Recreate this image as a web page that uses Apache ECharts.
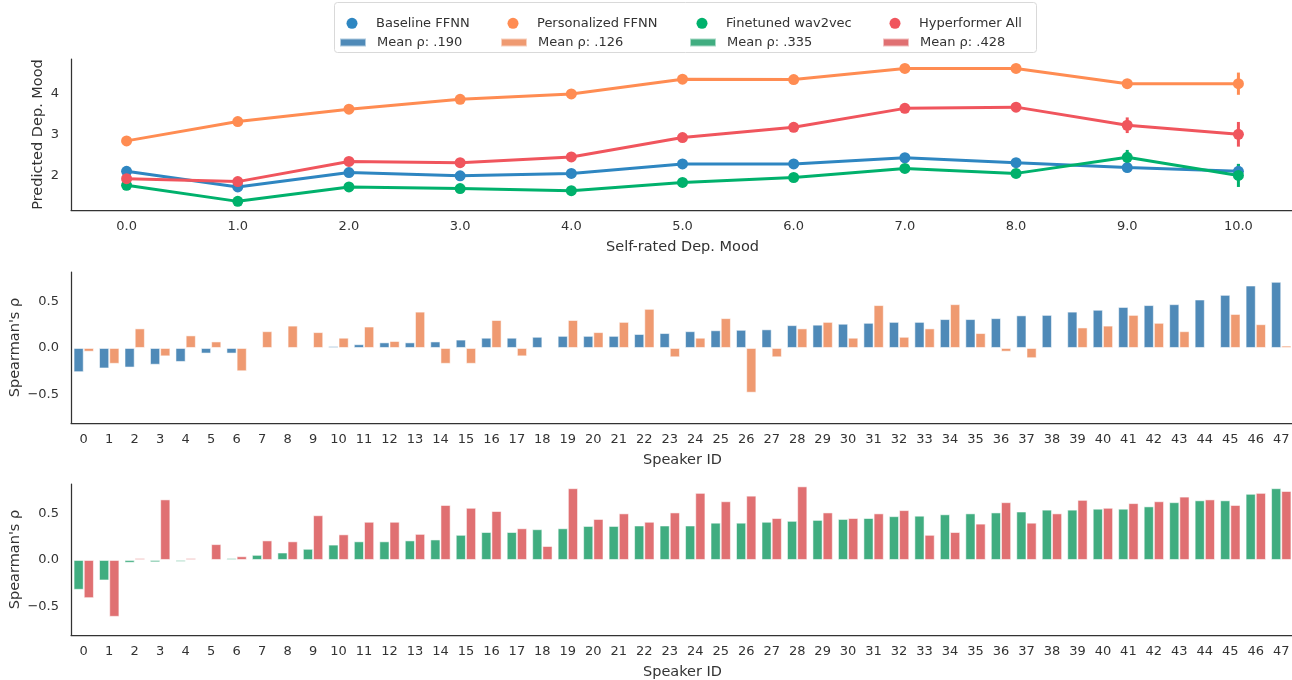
<!DOCTYPE html>
<html>
<head>
<meta charset="utf-8">
<script src="https://cdn.jsdelivr.net/npm/echarts@6/dist/echarts.min.js"></script>
<style>html,body{margin:0;padding:0;background:#fff;overflow:hidden;width:1292px;height:680px}#c{width:1296px;height:680px}</style>
</head>
<body>
<div id="c"></div>
<script>
// ---- Data ----
const moodCategories = ['0.0','1.0','2.0','3.0','4.0','5.0','6.0','7.0','8.0','9.0','10.0'];
const baselineMood     = [2.10, 1.72, 2.07, 1.99, 2.05, 2.28, 2.28, 2.43, 2.31, 2.19, 2.10];
const personalizedMood = [2.84, 3.31, 3.61, 3.85, 3.98, 4.34, 4.33, 4.60, 4.60, 4.23, 4.23];
const finetunedMood    = [1.76, 1.37, 1.72, 1.68, 1.63, 1.83, 1.95, 2.17, 2.05, 2.44, 2.00];
const hyperformerMood  = [1.92, 1.85, 2.34, 2.31, 2.45, 2.92, 3.17, 3.63, 3.66, 3.22, 3.00];
const baselineErr      = [0.03, 0.03, 0.03, 0.03, 0.03, 0.04, 0.04, 0.05, 0.06, 0.08, 0.18];
const personalizedErr  = [0.03, 0.03, 0.03, 0.03, 0.03, 0.04, 0.04, 0.05, 0.06, 0.11, 0.27];
const finetunedErr     = [0.03, 0.03, 0.03, 0.03, 0.03, 0.04, 0.04, 0.05, 0.06, 0.18, 0.28];
const hyperformerErr   = [0.03, 0.03, 0.03, 0.03, 0.03, 0.05, 0.05, 0.06, 0.08, 0.19, 0.30];

const speakerIds = Array.from({length: 48}, (_, i) => String(i));
const baselineRho = [-0.26,-0.22,-0.21,-0.18,-0.15,-0.06,-0.06,0.0,0.003,0.0,0.02,0.04,0.06,0.06,0.07,0.09,0.11,0.11,0.12,0.13,0.13,0.13,0.15,0.16,0.18,0.19,0.195,0.20,0.245,0.25,0.26,0.27,0.28,0.28,0.31,0.31,0.32,0.35,0.355,0.39,0.41,0.44,0.46,0.47,0.52,0.57,0.67,0.71];
const personalizedRho = [-0.04,-0.17,0.21,-0.09,0.135,0.07,-0.25,0.18,0.24,0.17,0.11,0.23,0.075,0.39,-0.17,-0.17,0.30,-0.09,0.0,0.30,0.17,0.28,0.42,-0.10,0.11,0.32,-0.48,-0.10,0.21,0.28,0.11,0.46,0.12,0.21,0.47,0.16,-0.04,-0.11,0.0,0.22,0.24,0.355,0.27,0.18,0.003,0.365,0.255,0.025];
const finetunedRho = [-0.32,-0.22,-0.03,-0.025,-0.02,0.0,0.02,0.055,0.08,0.12,0.165,0.20,0.20,0.21,0.22,0.27,0.30,0.30,0.33,0.34,0.365,0.365,0.37,0.37,0.37,0.40,0.40,0.41,0.42,0.43,0.44,0.45,0.47,0.475,0.49,0.50,0.51,0.52,0.54,0.54,0.55,0.55,0.575,0.62,0.64,0.64,0.71,0.77];
const hyperformerRho = [-0.41,-0.61,0.02,0.65,0.02,0.17,0.04,0.21,0.20,0.48,0.275,0.41,0.41,0.28,0.59,0.56,0.525,0.34,0.15,0.77,0.44,0.50,0.41,0.51,0.72,0.63,0.69,0.45,0.79,0.51,0.45,0.50,0.535,0.27,0.30,0.39,0.62,0.40,0.50,0.645,0.56,0.61,0.63,0.68,0.65,0.59,0.72,0.74];

const lineNames = ['Baseline FFNN','Personalized FFNN','Finetuned wav2vec','Hyperformer All'];
const meanNames = ['Mean ρ: .190','Mean ρ: .126','Mean ρ: .335','Mean ρ: .428'];
const moodTicks = [2, 3, 4];
const rhoTicks = [-0.5, 0, 0.5];

// ---- Styles ----
const lineColors = ['#2e86c1','#ff8c52','#00b16c','#f0555d'];
const barColors  = ['#4f8ab8','#ef9a71','#40ad80','#e07072'];
const FONT = 'DejaVu Sans';
const TXT = '#333';

function errSeries(vals, errs, color) {
  return {
    type: 'custom', xAxisIndex: 0, yAxisIndex: 0, silent: true, z: 3,
    data: vals.map((v, i) => [i, v, errs[i]]),
    renderItem: function (params, api) {
      const x = api.value(0), y = api.value(1), e = api.value(2);
      const p1 = api.coord([x, y - e]);
      const p2 = api.coord([x, y + e]);
      return {type: 'line', shape: {x1: p1[0], y1: p1[1], x2: p2[0], y2: p2[1]},
              style: {stroke: color, lineWidth: 3}};
    }
  };
}

function xAxisCfg(idx, data, name) {
  return {
    type: 'category', gridIndex: idx, data: data, boundaryGap: true,
    name: name, nameLocation: 'middle', nameGap: 30,
    nameTextStyle: {fontFamily: FONT, fontSize: 14.5, color: TXT},
    axisLine: {show: true, onZero: false, lineStyle: {color: '#333', width: 1.25}},
    axisTick: {show: false},
    axisLabel: {fontFamily: FONT, fontSize: 13, color: TXT, margin: 10, interval: 0},
    splitLine: {show: false}
  };
}
function yAxisCfg(idx, min, max, ticks, name, gap, fmt) {
  return {
    type: 'value', gridIndex: idx, min: min, max: max,
    name: name, nameLocation: 'middle', nameGap: gap, nameRotate: 90,
    nameMoveOverlap: false,
    nameTextStyle: {fontFamily: FONT, fontSize: 14.5, color: TXT},
    axisLine: {show: true, onZero: false, lineStyle: {color: '#333', width: 1.25}},
    axisTick: {show: false},
    axisLabel: {fontFamily: FONT, fontSize: 13, color: TXT, margin: 12,
                customValues: ticks, formatter: fmt},
    splitLine: {show: false}
  };
}
const rhoFmt = v => (v < 0 ? '\u2212' : '') + Math.abs(v).toFixed(1);

const circleLeft = [346.5, 507.5, 696.5, 889.5];
const rectLeft = [339, 500, 689, 882];
const legends = [];
lineNames.forEach((n, i) => legends.push({
  data: [n], left: circleLeft[i], top: 16.8, padding: 0, icon: 'circle',
  itemWidth: 11, itemHeight: 11, selectedMode: false,
  formatter: nm => '{g|}' + nm,
  textStyle: {fontFamily: FONT, fontSize: 13, color: TXT,
              rich: {g: {width: 13.5, fontSize: 13}}}
}));
meanNames.forEach((n, i) => legends.push({
  data: [n], left: rectLeft[i], top: 36, padding: 0, icon: 'rect',
  itemWidth: 26, itemHeight: 8, selectedMode: false,
  formatter: nm => '{g|}' + nm,
  textStyle: {fontFamily: FONT, fontSize: 13, color: TXT,
              rich: {g: {width: 6, fontSize: 13}}}
}));

const barBase = {type: 'bar', barGap: '0%', barCategoryGap: '20%'};
function barSeries(name, data, color, idx) {
  return Object.assign({}, barBase, {
    name: name, data: data, xAxisIndex: idx, yAxisIndex: idx,
    itemStyle: {color: color, borderColor: 'rgba(255,255,255,0.55)', borderWidth: 1}
  });
}
function lineSeries(name, data, color) {
  return {
    name: name, type: 'line', data: data, xAxisIndex: 0, yAxisIndex: 0, z: 3,
    symbol: 'circle', symbolSize: 11, showSymbol: true,
    lineStyle: {color: color, width: 3}, itemStyle: {color: color}
  };
}

const gridBase = {left: 71, width: 1223, height: 151, containLabel: false, outerBoundsMode: 'none'};
const option = {
  animation: false,
  backgroundColor: '#fff',
  textStyle: {fontFamily: FONT},
  graphic: [{
    type: 'rect', left: 334, top: 2, z: 0,
    shape: {width: 702, height: 50, r: 3},
    style: {fill: '#fff', stroke: '#d9d9d9', lineWidth: 1}
  }],
  legend: legends,
  grid: [
    Object.assign({top: 59}, gridBase),
    Object.assign({top: 272}, gridBase),
    Object.assign({top: 484}, gridBase)
  ],
  xAxis: [
    xAxisCfg(0, moodCategories, 'Self-rated Dep. Mood'),
    xAxisCfg(1, speakerIds, 'Speaker ID'),
    xAxisCfg(2, speakerIds, 'Speaker ID')
  ],
  yAxis: [
    yAxisCfg(0, 1.16, 4.83, moodTicks, 'Predicted Dep. Mood', 25, v => String(v)),
    yAxisCfg(1, -0.805, 0.815, rhoTicks, "Spearman's ρ", 48, rhoFmt),
    yAxisCfg(2, -0.805, 0.815, rhoTicks, "Spearman's ρ", 48, rhoFmt)
  ],
  series: [
    lineSeries(lineNames[0], baselineMood, lineColors[0]),
    errSeries(baselineMood, baselineErr, lineColors[0]),
    lineSeries(lineNames[1], personalizedMood, lineColors[1]),
    errSeries(personalizedMood, personalizedErr, lineColors[1]),
    lineSeries(lineNames[2], finetunedMood, lineColors[2]),
    errSeries(finetunedMood, finetunedErr, lineColors[2]),
    lineSeries(lineNames[3], hyperformerMood, lineColors[3]),
    errSeries(hyperformerMood, hyperformerErr, lineColors[3]),
    barSeries(meanNames[0], baselineRho, barColors[0], 1),
    barSeries(meanNames[1], personalizedRho, barColors[1], 1),
    barSeries(meanNames[2], finetunedRho, barColors[2], 2),
    barSeries(meanNames[3], hyperformerRho, barColors[3], 2)
  ]
};
const chart = echarts.init(document.getElementById('c'), null, {renderer: 'canvas'});
chart.setOption(option);
</script>
</body>
</html>
